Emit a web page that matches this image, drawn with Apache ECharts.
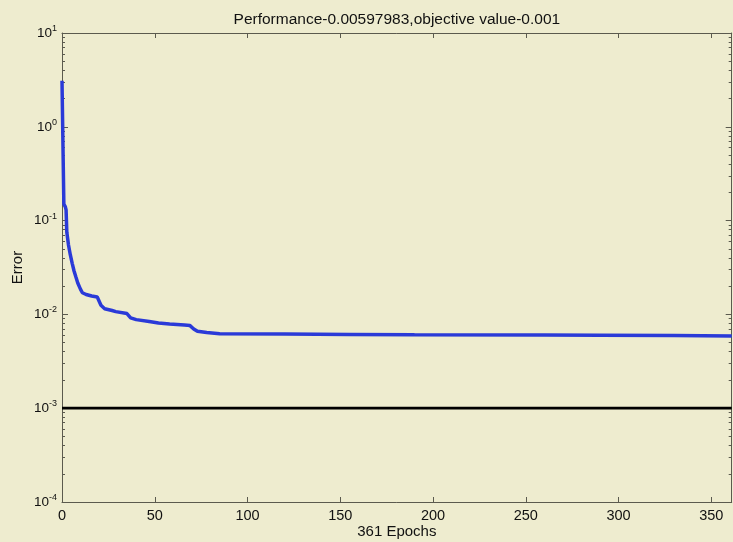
<!DOCTYPE html>
<html><head><meta charset="utf-8">
<script src="https://cdn.jsdelivr.net/npm/echarts@6/dist/echarts.min.js"></script>
<style>html,body{margin:0;padding:0;background:#EEECCF}#c{width:733px;height:542px}</style>
</head><body><div id="c"></div>
<script>
const titleText = 'Performance-0.00597983,objective value-0.001';
const xAxisName = '361 Epochs';
const yAxisName = 'Error';
const xTicks = [0, 50, 100, 150, 200, 250, 300, 350];
const yMajorTicks = [1e-4, 1e-3, 1e-2, 1e-1, 1, 10];
const yMinorTicks = [
  2e-4,3e-4,4e-4,5e-4,6e-4,7e-4,8e-4,9e-4,
  2e-3,3e-3,4e-3,5e-3,6e-3,7e-3,8e-3,9e-3,
  2e-2,3e-2,4e-2,5e-2,6e-2,7e-2,8e-2,9e-2,
  0.2,0.3,0.4,0.5,0.6,0.7,0.8,0.9,
  2,3,4,5,6,7,8,9
];
const epochs = [0, 1, 1.8, 2.2, 2.6, 3.5, 4.5, 5.5, 6.5, 7.5, 8.5, 10, 11, 13, 16, 19, 21, 23, 27, 29, 30, 35, 37, 40, 47, 52, 58, 66, 69, 71, 73, 78, 85, 120, 155, 190, 260, 290, 330, 361];
const errors = [3.1, 0.15, 0.14, 0.13, 0.075, 0.055, 0.043, 0.035, 0.029, 0.025, 0.0216, 0.0185, 0.017, 0.0163, 0.0157, 0.0153, 0.0125, 0.0115, 0.0110, 0.0107, 0.0103, 0.0102, 0.0092, 0.0088, 0.0084, 0.0081, 0.0079, 0.0077, 0.0076, 0.0070, 0.0066, 0.0064, 0.00622, 0.00617, 0.00612, 0.00606, 0.00603, 0.0060, 0.00594, 0.0059];
const goalEpochs = [0, 361];
const goalValues = [0.001, 0.001];

const axisColor = '#5b5a4e';
const font = 'Liberation Sans, Arial, sans-serif';
const chart = echarts.init(document.getElementById('c'));
const yFmt = v => '{b|10}{s|' + Math.round(Math.log10(v)) + '}';
const yLabel = {
  show: true, customValues: yMajorTicks, formatter: yFmt, margin: 5,
  rich: { b: { fontSize: 13.5, fontFamily: font, color: '#111' },
          s: { fontSize: 9, fontFamily: font, color: '#111', padding: [0, 0, 9, 0] } }
};
const yBase = { type: 'log', logBase: 10, min: 1e-4, max: 10, splitLine: { show: false } };
chart.setOption({
  backgroundColor: '#EEECCF',
  animation: false,
  grid: { left: 62, top: 33, right: 1.3, bottom: 40, show: false, containLabel: false, outerBoundsMode: 'none' },
  xAxis: [
    { type: 'value', min: 0, max: 361, position: 'bottom', name: xAxisName, nameLocation: 'middle', nameGap: 22,
      nameMoveOverlap: false,
      nameTextStyle: { fontSize: 15, fontFamily: font, color: '#111' },
      axisLine: { show: true, lineStyle: { color: axisColor, width: 1 } },
      axisTick: { show: true, inside: true, length: 5, customValues: xTicks, lineStyle: { color: axisColor } },
      axisLabel: { customValues: xTicks, margin: 6, fontSize: 14.5, fontFamily: font, color: '#111' },
      splitLine: { show: false } },
    { type: 'value', min: 0, max: 361, position: 'top', name: titleText, nameLocation: 'middle', nameGap: 5,
      nameMoveOverlap: false,
      nameTextStyle: { fontSize: 15.5, fontFamily: font, color: '#111' },
      axisLine: { show: true, lineStyle: { color: axisColor, width: 1 } },
      axisTick: { show: true, inside: true, length: 5, customValues: xTicks, lineStyle: { color: axisColor } },
      axisLabel: { show: false }, splitLine: { show: false } }
  ],
  yAxis: [
    Object.assign({}, yBase, { position: 'left', name: yAxisName, nameLocation: 'middle', nameGap: 37,
      nameMoveOverlap: false,
      nameTextStyle: { fontSize: 15, fontFamily: font, color: '#111' },
      axisLine: { show: true, lineStyle: { color: axisColor, width: 1 } },
      axisTick: { show: true, inside: true, length: 6, customValues: yMajorTicks, lineStyle: { color: axisColor } },
      axisLabel: yLabel }),
    Object.assign({}, yBase, { position: 'left',
      axisLine: { show: false },
      axisTick: { show: true, inside: true, length: 3, customValues: yMinorTicks, lineStyle: { color: axisColor } },
      axisLabel: { show: false } }),
    Object.assign({}, yBase, { position: 'right',
      axisLine: { show: true, lineStyle: { color: axisColor, width: 1 } },
      axisTick: { show: true, inside: true, length: 6, customValues: yMajorTicks, lineStyle: { color: axisColor } },
      axisLabel: { show: false } }),
    Object.assign({}, yBase, { position: 'right',
      axisLine: { show: false },
      axisTick: { show: true, inside: true, length: 3, customValues: yMinorTicks, lineStyle: { color: axisColor } },
      axisLabel: { show: false } })
  ],
  series: [
    { type: 'line', name: 'goal', xAxisIndex: 0, yAxisIndex: 0, showSymbol: false, symbol: 'none',
      data: goalEpochs.map((e, i) => [e, goalValues[i]]),
      lineStyle: { color: '#000', width: 2.8 }, z: 2 },
    { type: 'line', name: 'train', xAxisIndex: 0, yAxisIndex: 0, showSymbol: false, symbol: 'none',
      data: epochs.map((e, i) => [e, errors[i]]),
      lineStyle: { color: '#2a3ad8', width: 3.5 }, z: 3 }
  ]
});
</script></body></html>
